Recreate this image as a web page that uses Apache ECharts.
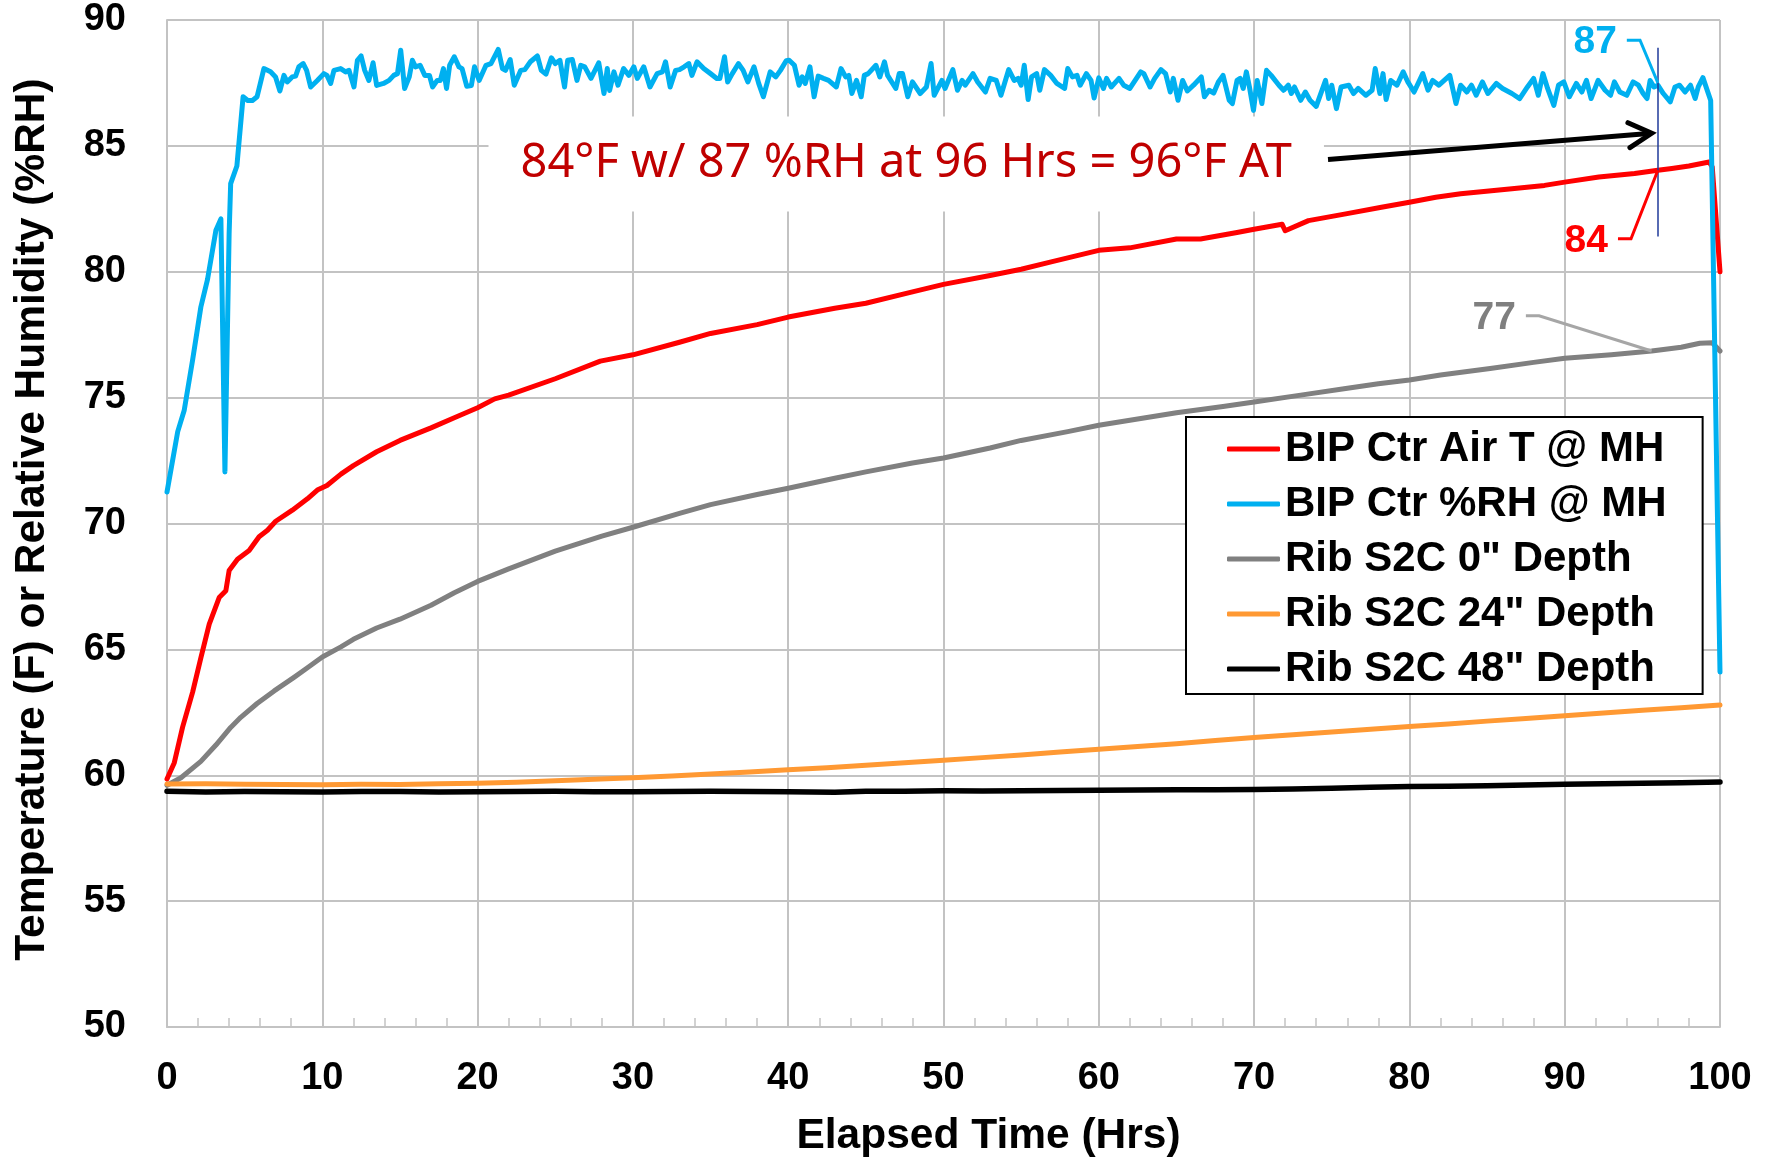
<!DOCTYPE html>
<html>
<head>
<meta charset="utf-8">
<script src="https://cdn.jsdelivr.net/npm/echarts@6/dist/echarts.min.js"></script>
<style>
html,body{margin:0;padding:0;background:#fff;}
#chart{width:1768px;height:1159px;}
</style>
</head>
<body>
<div id="chart"></div>
<script>
// ---------------- DATA ----------------
const seriesNames = ['BIP Ctr Air T @ MH', 'BIP Ctr %RH @ MH', 'Rib S2C 0" Depth', 'Rib S2C 24" Depth', 'Rib S2C 48" Depth'];

const airTemp = [[0,59.85],[0.47,60.5],[1.0,61.9],[1.65,63.3],[2.18,64.66],[2.72,66.0],[3.36,67.06],[3.79,67.33],[4.0,68.13],[4.54,68.58],[5.29,68.93],[5.93,69.47],[6.47,69.73],[7.0,70.09],[8.07,70.53],[9.04,70.98],[9.68,71.33],[10.3,71.51],[11.2,71.96],[12.0,72.3],[13.5,72.85],[15,73.3],[17,73.8],[18.5,74.2],[20,74.6],[21.1,74.95],[22,75.1],[25,75.75],[27.9,76.45],[30,76.7],[33,77.2],[35,77.55],[38,77.9],[40,78.2],[43,78.55],[45,78.75],[48,79.2],[50,79.5],[53,79.85],[55,80.1],[57,80.4],[60,80.85],[62,80.95],[65,81.3],[66.55,81.3],[68.9,81.56],[70,81.69],[71.8,81.89],[72.0,81.63],[73.5,82.03],[75.9,82.3],[78.2,82.56],[80,82.76],[81.7,82.96],[83.3,83.1],[86.6,83.3],[88.7,83.43],[90,83.56],[92.2,83.76],[94.5,83.9],[96,84.03],[96.9,84.1],[98,84.2],[99.3,84.36],[99.5,84.16],[100,80.0]];

const relHumidity = [[0,71.25],[0.69,73.65],[1.11,74.5],[1.65,76.5],[2.18,78.6],[2.61,79.7],[3.15,81.65],[3.47,82.1],[3.73,72.05],[4.0,81.5],[4.1,83.5],[4.5,84.2],[4.9,86.95],[5.2,86.8],[5.5,86.8],[5.8,86.95],[6.24,88.07],[6.67,87.94],[6.99,87.74],[7.27,87.18],[7.53,87.8],[7.74,87.54],[8.06,87.74],[8.28,87.77],[8.49,88.14],[8.77,88.27],[8.99,88.0],[9.25,87.34],[9.68,87.6],[10.1,87.87],[10.3,87.8],[10.54,87.48],[10.75,88.0],[11.18,88.07],[11.5,87.94],[11.72,88.0],[12.04,87.34],[12.26,88.4],[12.5,88.57],[12.73,88.0],[13.0,87.6],[13.27,88.3],[13.5,87.4],[13.94,87.48],[14.3,87.6],[14.6,87.8],[14.84,87.87],[15.05,88.8],[15.3,87.28],[15.6,87.74],[15.8,88.4],[16.0,88.14],[16.3,88.2],[16.6,87.8],[16.9,87.8],[17.1,87.34],[17.4,87.6],[17.6,87.6],[17.8,88.07],[18.0,87.28],[18.2,88.2],[18.5,88.54],[18.8,88.14],[19.0,88.07],[19.3,87.37],[19.6,87.4],[19.8,88.14],[20.1,87.6],[20.54,88.2],[20.86,88.27],[21.33,88.83],[21.6,88.07],[21.8,88.0],[22.1,88.43],[22.36,87.41],[22.78,88.0],[23.04,88.03],[23.4,88.34],[23.85,88.57],[24.1,88.0],[24.4,87.85],[24.75,88.5],[25.0,88.27],[25.3,88.4],[25.6,87.34],[25.8,88.4],[26.1,88.43],[26.4,87.6],[26.64,88.2],[26.9,88.14],[27.3,87.68],[27.8,88.3],[28.14,87.08],[28.35,88.07],[28.5,87.2],[28.78,87.94],[29.04,87.41],[29.4,88.07],[29.74,87.8],[30.06,88.14],[30.28,87.68],[30.7,88.14],[31.1,87.34],[31.56,87.87],[31.9,87.94],[32.1,88.34],[32.4,87.34],[32.75,88.0],[33.0,88.03],[33.3,88.14],[33.6,88.27],[33.8,87.8],[34.13,88.34],[34.56,88.07],[35.0,87.87],[35.4,87.68],[35.6,87.68],[35.9,88.54],[36.1,87.54],[36.4,87.87],[36.8,88.27],[37.1,88.0],[37.4,87.54],[37.8,88.14],[38.1,87.48],[38.4,86.95],[38.84,87.94],[39.2,87.74],[39.5,88.0],[39.87,88.38],[40.06,88.4],[40.4,88.2],[40.7,87.41],[40.9,87.74],[41.1,87.48],[41.4,88.14],[41.67,86.95],[41.93,87.77],[42.27,87.68],[42.6,87.6],[43.1,87.34],[43.4,88.07],[43.7,87.74],[43.9,87.8],[44.1,87.08],[44.4,87.6],[44.7,86.95],[44.9,87.8],[45.15,87.87],[45.65,88.2],[45.9,87.74],[46.2,88.34],[46.4,87.8],[46.93,87.28],[47.15,87.87],[47.36,87.87],[47.7,86.95],[48.0,87.54],[48.5,87.08],[48.9,87.34],[49.2,88.27],[49.4,87.01],[49.9,87.6],[50.1,87.28],[50.6,88.03],[50.9,87.21],[51.2,87.6],[51.4,87.41],[51.9,87.87],[52.2,87.54],[52.7,87.14],[53.0,87.68],[53.4,87.6],[53.7,87.01],[54.2,88.03],[54.55,87.6],[54.8,87.68],[55.0,87.41],[55.2,88.2],[55.45,86.84],[55.67,87.74],[56.0,87.87],[56.2,87.21],[56.5,88.03],[56.9,87.8],[57.3,87.48],[57.8,87.28],[58.0,88.07],[58.3,87.74],[58.6,87.8],[58.8,87.41],[59.2,87.87],[59.5,87.6],[59.7,86.9],[60.0,87.7],[60.3,87.28],[60.5,87.68],[60.8,87.34],[61.3,87.68],[61.6,87.41],[62.0,87.28],[62.7,87.94],[62.9,87.87],[63.3,87.34],[63.6,87.68],[64.0,88.03],[64.3,87.87],[64.6,87.14],[64.8,87.68],[65.1,86.81],[65.4,87.6],[65.7,87.18],[66.1,87.41],[66.6,87.74],[66.8,86.95],[67.1,87.21],[67.4,87.1],[67.7,87.54],[68.0,87.8],[68.4,86.81],[68.6,86.68],[68.9,87.6],[69.1,87.68],[69.3,87.28],[69.5,87.94],[69.7,87.34],[69.96,86.41],[70.2,87.6],[70.5,86.68],[70.8,88.0],[71.1,87.8],[71.6,87.41],[71.9,87.21],[72.2,87.41],[72.4,87.08],[72.6,87.34],[73.0,86.81],[73.3,87.14],[73.6,86.81],[74.0,86.57],[74.6,87.6],[74.8,86.88],[75.0,87.41],[75.3,86.48],[75.6,87.34],[76.1,87.41],[76.4,87.08],[76.7,87.28],[77.2,87.01],[77.6,87.21],[77.8,88.07],[78.1,87.08],[78.3,87.87],[78.5,86.84],[78.8,87.6],[79.2,87.41],[79.6,87.94],[79.9,87.54],[80.3,87.14],[80.86,87.87],[81.2,87.21],[81.5,87.6],[81.9,87.41],[82.6,87.8],[83.0,86.68],[83.3,87.41],[83.7,87.14],[84.0,87.41],[84.3,87.01],[84.7,87.54],[85.05,87.08],[85.6,87.48],[86.0,87.28],[86.6,87.08],[87.1,86.88],[87.6,87.34],[88.0,87.68],[88.3,87.01],[88.6,87.87],[88.9,87.28],[89.3,86.61],[89.6,87.41],[89.94,87.54],[90.3,86.95],[90.75,87.48],[91.1,87.14],[91.4,87.6],[91.7,86.88],[92.15,87.6],[92.6,87.21],[92.95,87.01],[93.2,87.54],[93.55,87.14],[94.0,87.01],[94.4,87.54],[94.75,87.41],[95.05,87.08],[95.3,86.88],[95.5,87.6],[95.75,87.34],[96.0,87.41],[96.35,87.08],[96.8,86.75],[97.1,87.34],[97.4,87.41],[97.75,87.14],[98.1,87.41],[98.4,86.88],[98.6,87.34],[98.9,87.71],[99.4,86.8],[100,64.1]];

const rib0 = [[0,59.6],[0.9,59.9],[2.18,60.55],[3.15,61.2],[4.1,61.9],[4.75,62.3],[5.8,62.85],[6.9,63.35],[8.2,63.9],[9.0,64.25],[10.0,64.7],[11.2,65.1],[12.0,65.4],[13.5,65.85],[15,66.2],[17,66.75],[18.5,67.25],[20,67.7],[22,68.2],[25,68.9],[28,69.5],[30,69.85],[33,70.4],[35,70.75],[38,71.15],[40,71.4],[43,71.8],[45,72.05],[48,72.4],[50,72.6],[53,73.0],[55,73.3],[58,73.65],[60,73.9],[63,74.2],[65,74.4],[68,74.65],[70,74.83],[73,75.1],[75.9,75.36],[78,75.55],[80,75.7],[82,75.9],[85.2,76.16],[88,76.4],[90,76.56],[93,76.7],[95.6,76.85],[97.5,77.0],[98.7,77.16],[99.5,77.18],[100,76.85]];

const rib24 = [[0,59.65],[2.5,59.66],[5,59.64],[7.5,59.63],[10,59.62],[12.5,59.64],[15,59.63],[17.5,59.66],[20,59.68],[22.5,59.72],[25,59.78],[27.5,59.84],[30,59.9],[32.5,59.97],[35,60.05],[37.5,60.13],[40,60.22],[42.5,60.3],[45,60.4],[47.5,60.5],[50,60.6],[52.5,60.7],[55,60.8],[57.5,60.92],[60,61.03],[62.5,61.14],[65,61.25],[67.5,61.38],[70,61.5],[72.5,61.61],[75,61.72],[77.5,61.83],[80,61.94],[82.5,62.04],[85,62.15],[87.5,62.25],[90,62.36],[92.5,62.47],[95,62.58],[97.5,62.68],[100,62.79]];

const rib48 = [[0,59.36],[2.5,59.33],[5,59.35],[7.5,59.34],[10,59.33],[12.5,59.35],[15,59.35],[17.5,59.33],[20,59.34],[22.5,59.35],[25,59.36],[27.5,59.34],[30,59.34],[32.5,59.35],[35,59.36],[37.5,59.35],[40,59.34],[43,59.32],[45,59.36],[47.5,59.36],[50,59.38],[52.5,59.37],[55,59.38],[57.5,59.39],[60,59.4],[62.5,59.41],[65,59.42],[67.5,59.42],[70,59.43],[72.5,59.45],[75,59.48],[77.5,59.52],[80,59.55],[82.5,59.56],[85,59.58],[87.5,59.61],[90,59.64],[92.5,59.66],[95,59.68],[97.5,59.7],[100,59.73]];

const xTicks = {min: 0, max: 100, step: 10};
const yTicks = {min: 50, max: 90, step: 5};

const noteText = '84°F w/ 87 %RH at 96 Hrs = 96°F AT';
const callouts = [
  {text: '87', color: '#00B0F0', line: '#00B0F0', pts: [[94.0, 89.2], [94.85, 89.2], [96, 87.5]]},
  {text: '84', color: '#FF0000', line: '#FF0000', pts: [[93.43, 81.31], [94.27, 81.31], [96, 84.03]]},
  {text: '77', color: '#7F7F7F', line: '#A6A6A6', pts: [[87.5, 78.25], [88.35, 78.25], [95.6, 76.85]]}
];

// ---------------- CHART ----------------
const FONT = '"Liberation Sans", Arial, sans-serif';
const chart = echarts.init(document.getElementById('chart'), null, {renderer: 'canvas'});
const colors = ['#FF0000', '#00B0F0', '#808080', '#FF9933', '#000000'];
const dataSets = [airTemp, relHumidity, rib0, rib24, rib48];
const gridColor = '#C3C3C3';

const series = dataSets.map((d, i) => ({
  name: seriesNames[i],
  type: 'line',
  data: d,
  showSymbol: false,
  symbol: 'none',
  smooth: false,
  lineStyle: {color: colors[i], width: i === 4 ? 5.5 : 5, join: 'round', cap: 'round'},
  itemStyle: {color: colors[i]},
  z: [3, 4, 3, 3, 3][i]
}));

series[1].markLine = {
  silent: true,
  symbol: ['none', 'none'],
  label: {show: false},
  lineStyle: {color: '#1F3A9A', width: 1.5, type: 'solid'},
  data: [[{coord: [96, 88.9]}, {coord: [96, 81.4]}]]
};

chart.setOption({
  animation: false,
  backgroundColor: '#ffffff',
  grid: {left: 167, right: 48, top: 20, bottom: 132, containLabel: false, outerBoundsMode: 'none'},
  legend: {
    show: true,
    orient: 'vertical',
    left: 1186,
    top: 417,
    data: seriesNames,
    icon: 'roundRect',
    itemWidth: 53,
    itemHeight: 5,
    itemGap: 9,
    padding: [9, 36, 2, 41],
    borderColor: '#000',
    borderWidth: 2,
    backgroundColor: '#fff',
    textStyle: {fontFamily: FONT, fontWeight: 'bold', fontSize: 42, color: '#000', lineHeight: 46, padding: [0, 0, 0, 0]}
  },
  xAxis: {
    type: 'value',
    min: xTicks.min, max: xTicks.max, interval: xTicks.step,
    name: 'Elapsed Time (Hrs)',
    nameLocation: 'middle',
    nameGap: 88,
    nameTextStyle: {fontFamily: FONT, fontWeight: 'bold', fontSize: 42.5, color: '#000', padding: [0, 0, 0, 90]},
    axisLine: {show: true, lineStyle: {color: gridColor, width: 2}},
    axisTick: {show: true, inside: true, length: 9, lineStyle: {color: gridColor, width: 2}},
    minorTick: {show: true, splitNumber: 5, length: 9, lineStyle: {color: gridColor, width: 1.5}},
    axisLabel: {fontFamily: FONT, fontWeight: 'bold', fontSize: 38, color: '#000', margin: 33},
    splitLine: {show: true, lineStyle: {color: gridColor, width: 2}}
  },
  yAxis: {
    type: 'value',
    min: yTicks.min, max: yTicks.max, interval: yTicks.step,
    name: 'Temperature (F) or Relative Humidity (%RH)',
    nameLocation: 'middle',
    nameGap: 113,
    nameTextStyle: {fontFamily: FONT, fontWeight: 'bold', fontSize: 42.5, color: '#000', padding: [0, 0, 0, 8]},
    axisLine: {show: true, lineStyle: {color: gridColor, width: 2}},
    axisTick: {show: false},
    axisLabel: {fontFamily: FONT, fontWeight: 'bold', fontSize: 38, color: '#000', margin: 41},
    splitLine: {show: true, lineStyle: {color: gridColor, width: 2}}
  },
  series: series
});

// ---------------- ANNOTATIONS ----------------
function px(p) { return chart.convertToPixel({gridIndex: 0}, p); }
const graphics = [];

// note text box
const noteAt = px([47.6, 84.28]);
graphics.push({
  type: 'text', x: noteAt[0], y: noteAt[1], z: 20,
  style: {
    text: noteText, fill: '#C00000',
    font: '47px "Noto Sans", "Open Sans", sans-serif',
    align: 'center', verticalAlign: 'middle',
    backgroundColor: '#ffffff', padding: [24, 32]
  }
});

// arrow
const a0 = px([74.76, 84.46]);
const a1 = px([95.6, 85.5]);
const ang = Math.atan2(a1[1] - a0[1], a1[0] - a0[0]);
const headLen = 26, headAng = 0.5;
const h1 = [a1[0] - headLen * Math.cos(ang - headAng), a1[1] - headLen * Math.sin(ang - headAng)];
const h2 = [a1[0] - headLen * Math.cos(ang + headAng), a1[1] - headLen * Math.sin(ang + headAng)];
graphics.push({type: 'line', z: 21, shape: {x1: a0[0], y1: a0[1], x2: a1[0] - 3 * Math.cos(ang), y2: a1[1] - 3 * Math.sin(ang)},
  style: {stroke: '#000', lineWidth: 5, lineCap: 'butt'}});
graphics.push({type: 'polyline', z: 21, shape: {points: [h1, a1, h2]},
  style: {stroke: '#000', lineWidth: 5, lineJoin: 'miter', lineCap: 'round', fill: null}});

// callouts
callouts.forEach(c => {
  const pts = c.pts.map(px);
  graphics.push({type: 'polyline', z: 22, shape: {points: pts},
    style: {stroke: c.line, lineWidth: 3, fill: null, lineJoin: 'miter'}});
  graphics.push({type: 'text', z: 22, x: pts[0][0] - 10, y: pts[0][1] + 2,
    style: {text: c.text, fill: c.color, font: 'bold 39px ' + FONT, align: 'right', verticalAlign: 'middle'}});
});

chart.setOption({graphic: graphics});
</script>
</body>
</html>
